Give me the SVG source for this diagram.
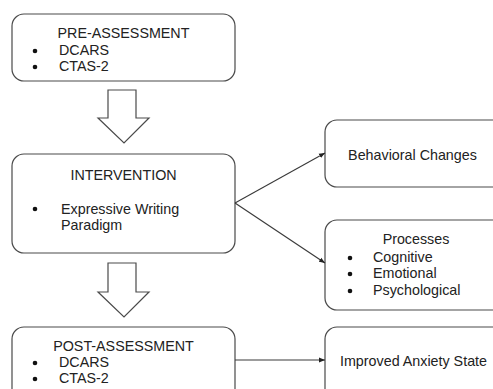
<svg xmlns="http://www.w3.org/2000/svg" width="493" height="389" viewBox="0 0 493 389">
<defs>
<style>
.box{fill:#fff;stroke:#4a4a4a;stroke-width:1.2}
.hollow{fill:#fff;stroke:#4a4a4a;stroke-width:1.2;stroke-linejoin:miter}
text{font-family:"Liberation Sans",Arial,sans-serif;font-size:14.3px;fill:#222}
.c{text-anchor:middle}
.dot{fill:#111}
.edge{stroke:#3a3a3a;stroke-width:1.1;fill:none}
</style>
<marker id="ah" viewBox="0 0 10 10" refX="10" refY="5" markerWidth="6" markerHeight="6" markerUnits="userSpaceOnUse" orient="auto">
<path d="M0,1 L10,5 L0,9 z" fill="#222"/>
</marker>
</defs>
<rect width="493" height="389" fill="#fff"/>
<g id="pre">
<rect class="box" x="12" y="14" width="223" height="67" rx="12"/>
<text class="c" x="123.5" y="38">PRE-ASSESSMENT</text>
<circle class="dot" cx="35" cy="51" r="2.3"/>
<text x="59" y="55">DCARS</text>
<circle class="dot" cx="35" cy="67" r="2.3"/>
<text x="59" y="71">CTAS-2</text>
</g>
<g id="intervention">
<rect class="box" x="12" y="154" width="223" height="99" rx="12"/>
<text class="c" x="123.5" y="180">INTERVENTION</text>
<circle class="dot" cx="35" cy="209" r="2.3"/>
<text x="61" y="214">Expressive Writing</text>
<text x="61" y="230">Paradigm</text>
</g>
<g id="post">
<rect class="box" x="12" y="327" width="223" height="80" rx="12"/>
<text class="c" x="123.5" y="351">POST-ASSESSMENT</text>
<circle class="dot" cx="35" cy="363" r="2.3"/>
<text x="59" y="367">DCARS</text>
<circle class="dot" cx="35" cy="379" r="2.3"/>
<text x="59" y="383">CTAS-2</text>
</g>
<g id="behavioral">
<rect class="box" x="325" y="120" width="180" height="67" rx="12"/>
<text class="c" x="412.5" y="160">Behavioral Changes</text>
</g>
<g id="processes">
<rect class="box" x="325" y="220" width="180" height="90" rx="12"/>
<text class="c" x="416" y="244">Processes</text>
<circle class="dot" cx="350" cy="258" r="2.3"/>
<text x="373" y="262">Cognitive</text>
<circle class="dot" cx="350" cy="274" r="2.3"/>
<text x="373" y="278">Emotional</text>
<circle class="dot" cx="350" cy="291" r="2.3"/>
<text x="373" y="295">Psychological</text>
</g>
<g id="improved">
<rect class="box" x="325" y="327" width="180" height="80" rx="12"/>
<text class="c" x="413.5" y="366">Improved Anxiety State</text>
</g>
<g id="connectors">
<polygon class="hollow" points="108,90 136,90 136,118 149,118 124,143 98,118 108,118"/>
<polygon class="hollow" points="108,263 136,263 136,292 149,292 124,317 98,292 108,292"/>
<line class="edge" x1="235" y1="203" x2="325" y2="153" marker-end="url(#ah)"/>
<line class="edge" x1="235" y1="203" x2="325" y2="263" marker-end="url(#ah)"/>
<line class="edge" x1="235" y1="360" x2="325" y2="360" marker-end="url(#ah)"/>
</g>
</svg>
